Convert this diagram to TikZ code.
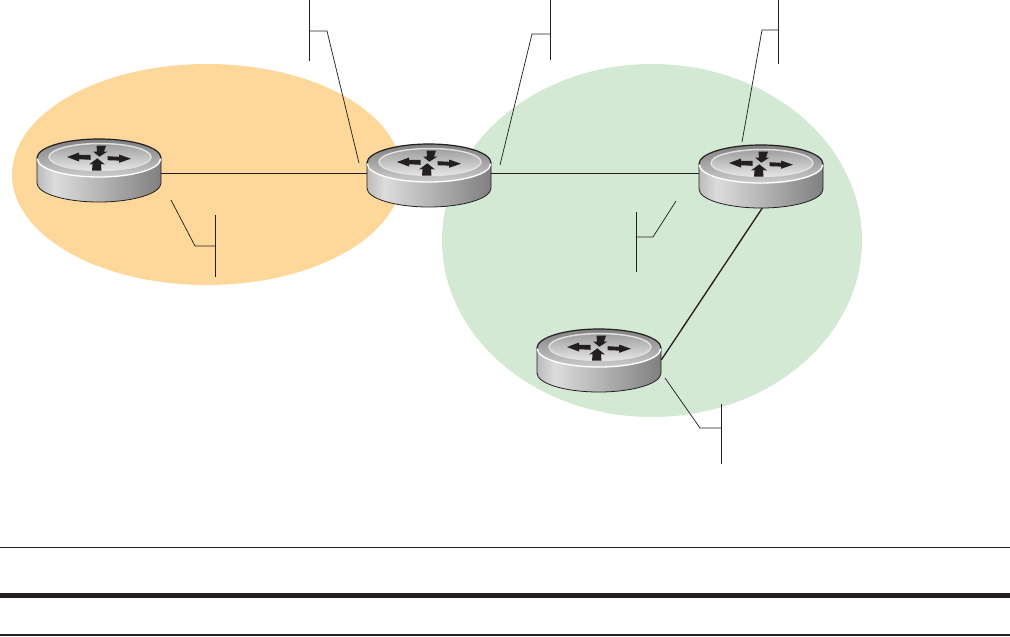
\documentclass[tikz,border=0pt]{standalone}
\usepackage{xcolor}
\usetikzlibrary{positioning}
\definecolor{zoneorange}{RGB}{254,216,155}
\definecolor{zonegreen}{RGB}{212,233,211}
\definecolor{inkblack}{RGB}{35,31,32}
\pgfdeclarehorizontalshading{routerside}{100bp}{
  color(0bp)=(black!62); color(12bp)=(black!50); color(32bp)=(black!14);
  color(42bp)=(black!22); color(75bp)=(black!50); color(92bp)=(black!58); color(100bp)=(black!72)}
\tikzset{
  link/.style={draw=inkblack, line width=0.7pt},
  linkheavy/.style={draw=inkblack, line width=1pt},
  leader/.style={draw=inkblack, line width=0.55pt},
  rulethin/.style={draw=inkblack, line width=0.9pt},
  rulethick/.style={draw=inkblack, line width=4.2pt},
  routerbox/.style={minimum width=93pt, minimum height=48pt, inner sep=0pt},
  blockarrow/.style={fill=inkblack}
}
% x y of the upper disc, then the y where links meet the router
\newcommand{\router}[4]{
  \node[routerbox] (#1) at (#2,#4) {};
  \begin{scope}[shift={(#2,#3)}]
    \shade[shading=routerside, draw=inkblack, line width=0.6pt] (-62,0) -- (-62,25) arc[start angle=180,end angle=0,x radius=62,y radius=19] -- (62,0) -- cycle;
    \shade[top color=black!50, bottom color=black!20] (0,0) ellipse[x radius=62,y radius=19];
    \draw[white, line width=1pt] (-61.5,1) arc[start angle=180,end angle=0,x radius=61.5,y radius=18];
    \draw[inkblack, line width=0.9pt] (-62,0) arc[start angle=180,end angle=360,x radius=62,y radius=19];
    \shade[top color=black!38, bottom color=black!10, draw=black!12, line width=1.1pt] (1,-1) ellipse[x radius=51,y radius=13.5];
    \fill[blockarrow] (-32,-1) -- (-20,-5.5) -- (-20,-3) -- (-8.5,-3.2) -- (-8.5,1.8) -- (-20,1.2) -- (-20,3.5) -- cycle;
    \fill[blockarrow] (32,0.7) -- (20,-3.5) -- (20,-1.2) -- (8.7,-1.8) -- (8.7,2.2) -- (20,2.6) -- (20,4.8) -- cycle;
    \fill[blockarrow] (0.3,-1.3) -- (-6,-6.5) -- (-2,-6.5) -- (-2.5,-12.5) -- (7,-12.5) -- (5,-6.5) -- (8.5,-6.5) -- cycle;
    \fill[blockarrow] (-1.7,0.3) -- (-10,6.5) -- (-6.4,6) -- (-7,12.7) -- (2.5,12.7) -- (2,6) -- (6,6.5) -- cycle;
  \end{scope}
}

\begin{document}
\begin{tikzpicture}[x=0.75pt,y=-0.75pt]
\useasboundingbox (0,0) rectangle (1010,636);
% areas
\fill[zoneorange] (207,174.5) ellipse[x radius=195,y radius=110.5];
\fill[zonegreen] (652,240.5) ellipse[x radius=210,y radius=176.5];
% routers
\router{ra}{99}{158}{173}
\router{rb}{429}{163}{173}
\router{rc}{761}{164}{173}
\router{rd}{599}{348}{360}
% links
\draw[link] (ra.east) -- (rb.west);
\draw[link] (rb.east) -- (rc.west);
\draw[linkheavy] ([xshift=1pt,yshift=-2pt]rc.south) -- (rd.east);
% leaders
\foreach \n/\bx/\btop/\bbot/\by/\kx/\ex/\ey in {
  a/309/0/61/31/327/359/163,
  b/550/0/60/34/532/500/165,
  c/778/0/64/30/762/742/142,
  d/215/215/277/246/195/171/200,
  e/636/212/272/237/653/676/201,
  f/721/404/464/428/700/665/378}{
  \coordinate (tag\n) at (\bx,\by);
  \coordinate (elbow\n) at (\kx,\by);
  \coordinate (tip\n) at (\ex,\ey);
  \draw[leader] (\bx,\btop) -- (\bx,\bbot);
  \draw[leader] (tag\n) -- (elbow\n) -- (tip\n);
}
% table rules
\coordinate (rulea) at (0,547.3);
\coordinate (ruleb) at (0,595.5);
\coordinate (rulec) at (0,635);
\draw[rulethin] (rulea) -- ++(1010,0);
\draw[rulethick] (ruleb) -- ++(1010,0);
\draw[rulethin] (rulec) -- ++(1010,0);
\end{tikzpicture}
\end{document}
